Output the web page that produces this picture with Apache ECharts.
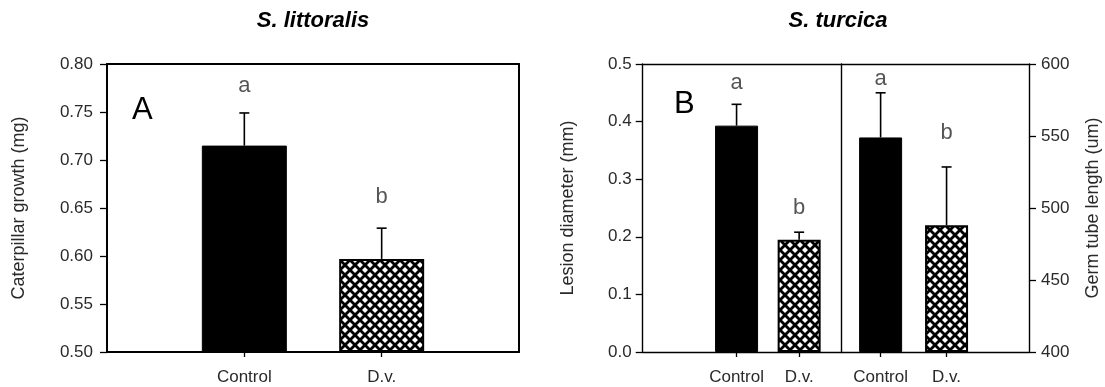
<!DOCTYPE html>
<html>
<head>
<meta charset="utf-8">
<script src="https://cdn.jsdelivr.net/npm/echarts@6/dist/echarts.min.js"></script>
<style>
  html, body { margin: 0; padding: 0; background: #fff; }
  #chart { width: 1105px; height: 387px; }
</style>
</head>
<body>
<div id="chart"></div>
<script>
// ---- data ----
const categories = ['Control', 'D.v.'];

// Panel A: S. littoralis caterpillar growth (mg)
const growthMean = [0.715, 0.597];
const growthSE = [0.034, 0.032];
const growthLetters = ['a', 'b'];
const growthTicks = [0.50, 0.80, 0.05];   // min, max, step

// Panel B (left): S. turcica lesion diameter (mm)
const lesionMean = [0.393, 0.195];
const lesionSE = [0.037, 0.013];
const lesionLetters = ['a', 'b'];
const lesionTicks = [0.0, 0.5, 0.1];

// Panel B (right): S. turcica germ tube length (um)
const germMean = [549, 488];
const germSE = [31, 40.5];
const germLetters = ['a', 'b'];
const germTicks = [400, 600, 50];

// ---- styling ----
const FONT = '"Liberation Sans", Arial, sans-serif';
const TEXT = '#2a2a2a';

// cross-hatch fill for the D.v. bars
function makeHatch() {
  const s = 10;
  const n = 20;
  const c = document.createElement('canvas');
  c.width = n; c.height = n;
  const g = c.getContext('2d');
  g.fillStyle = '#fff';
  g.fillRect(0, 0, n, n);
  g.strokeStyle = '#000';
  g.lineWidth = 2.8;
  for (let k = -2; k <= 2; k++) {
    g.beginPath(); g.moveTo(k * s, 0); g.lineTo(k * s + n, n); g.stroke();
    g.beginPath(); g.moveTo(k * s + n, 0); g.lineTo(k * s, n); g.stroke();
  }
  return c;
}
const hatch = { image: makeHatch(), repeat: 'repeat' };

const grids = [
  { left: 107, top: 64, width: 412, height: 288 },     // A
  { left: 642.7, top: 64, width: 199, height: 288 },   // B left
  { left: 841.7, top: 64, width: 187.3, height: 288 }  // B right
];
// x extent of each panel, in slot units (categories sit at 1 and 2)
const xExtent = [[0, 3], [-0.5, 2.68], [0.41, 3.25]];
const lineW = [2, 1.4, 1.4];
const barW = [85, 43, 43];

const xAxes = [];
const yAxes = [];
grids.forEach((gr, i) => {
  xAxes.push({
    type: 'value', gridIndex: i, position: 'bottom',
    min: xExtent[i][0], max: xExtent[i][1],
    axisLine: { show: true, onZero: false, lineStyle: { color: '#000', width: lineW[i] } },
    axisTick: { show: true, customValues: [1, 2], length: 5, lineStyle: { color: '#000', width: 1.3 } },
    axisLabel: {
      show: true, customValues: [1, 2], margin: 17,
      formatter: v => categories[Math.round(v) - 1] || '',
      color: TEXT, fontFamily: FONT, fontSize: 17
    },
    splitLine: { show: false }
  });
  // top border of the frame
  xAxes.push({
    type: 'value', gridIndex: i, position: 'top',
    min: xExtent[i][0], max: xExtent[i][1],
    axisLine: { show: true, onZero: false, lineStyle: { color: '#000', width: lineW[i] } },
    axisTick: { show: false }, axisLabel: { show: false }, splitLine: { show: false }
  });
});

function valueAxis(gridIndex, ticks, position, digits, name, nameGap, margin) {
  return {
    type: 'value', gridIndex, position,
    min: ticks[0], max: ticks[1], interval: ticks[2], startValue: ticks[0],
    name, nameLocation: 'middle', nameGap,
    nameTextStyle: { color: TEXT, fontFamily: FONT, fontSize: 18 },
    axisLine: { show: true, onZero: false, lineStyle: { color: '#000', width: lineW[gridIndex] } },
    axisTick: { show: true, length: 7, lineStyle: { color: '#000', width: 1.3 } },
    axisLabel: {
      margin, color: TEXT, fontFamily: FONT, fontSize: 17,
      formatter: v => v.toFixed(digits)
    },
    splitLine: { show: false }
  };
}
function borderAxis(gridIndex, ticks, position) {
  return {
    type: 'value', gridIndex, position,
    min: ticks[0], max: ticks[1],
    axisLine: { show: true, onZero: false, lineStyle: { color: '#000', width: lineW[gridIndex] } },
    axisTick: { show: false }, axisLabel: { show: false }, splitLine: { show: false }
  };
}

yAxes.push(valueAxis(0, growthTicks, 'left', 2, 'Caterpillar growth (mg)', 79, 14));
yAxes.push(borderAxis(0, growthTicks, 'right'));
yAxes.push(valueAxis(1, lesionTicks, 'left', 1, 'Lesion diameter (mm)', 66, 11));
yAxes.push(borderAxis(1, lesionTicks, 'right'));
yAxes.push(valueAxis(2, germTicks, 'right', 0, 'Germ tube length (um)', 55, 12));

// panels: grid index, x axis index, y axis index, data
const panels = [
  { g: 0, x: 0, y: 0, mean: growthMean, se: growthSE, letters: growthLetters, lift: [16, 20] },
  { g: 1, x: 2, y: 2, mean: lesionMean, se: lesionSE, letters: lesionLetters, lift: [10, 13] },
  { g: 2, x: 4, y: 4, mean: germMean, se: germSE, letters: germLetters, lift: [3, 23] }
];

const series = [];
panels.forEach(p => {
  series.push({
    type: 'bar', xAxisIndex: p.x, yAxisIndex: p.y,
    barWidth: barW[p.g], clip: true,
    data: categories.map((c, i) => ({
      value: [i + 1, p.mean[i]],
      itemStyle: i === 0
        ? { color: '#000', borderColor: '#000', borderWidth: 1 }
        : { color: hatch, borderColor: '#000', borderWidth: 2 }
    })),
    silent: true, z: 2
  });
  // upper error bars with caps
  series.push({
    type: 'custom', xAxisIndex: p.x, yAxisIndex: p.y,
    data: categories.map((c, i) => [i + 1, p.mean[i], p.se[i]]),
    renderItem: (params, api) => {
      const x = api.value(0), m = api.value(1), e = api.value(2);
      const a = api.coord([x, m]);
      const b = api.coord([x, m + e]);
      const st = { stroke: '#000', lineWidth: 1.6 };
      return {
        type: 'group',
        children: [
          { type: 'line', shape: { x1: a[0], y1: a[1], x2: b[0], y2: b[1] }, style: st },
          { type: 'line', shape: { x1: b[0] - 5, y1: b[1], x2: b[0] + 5, y2: b[1] }, style: st }
        ]
      };
    },
    silent: true, z: 3
  });
  // significance letters above the error bars
  series.push({
    type: 'scatter', xAxisIndex: p.x, yAxisIndex: p.y,
    symbolSize: 0,
    data: categories.map((c, i) => ({
      value: [i + 1, p.mean[i] + p.se[i]],
      label: {
        show: true, position: 'top', distance: p.lift[i],
        formatter: p.letters[i],
        color: TEXT, fontFamily: FONT, fontSize: 22
      }
    })),
    silent: true, z: 4
  });
});

const chart = echarts.init(document.getElementById('chart'), null, { renderer: 'canvas' });
chart.setOption({
  animation: false,
  backgroundColor: '#fff',
  grid: grids,
  xAxis: xAxes,
  yAxis: yAxes,
  series,
  graphic: [
    { type: 'text', x: 313, y: 21, style: { text: 'S. littoralis', align: 'center', verticalAlign: 'middle', font: 'italic bold 22px ' + FONT, fill: '#000' } },
    { type: 'text', x: 838, y: 21, style: { text: 'S. turcica', align: 'center', verticalAlign: 'middle', font: 'italic bold 22px ' + FONT, fill: '#000' } },
    { type: 'text', x: 132, y: 110, style: { text: 'A', align: 'left', verticalAlign: 'middle', font: '31px ' + FONT, fill: '#000' } },
    { type: 'text', x: 674, y: 104, style: { text: 'B', align: 'left', verticalAlign: 'middle', font: '31px ' + FONT, fill: '#000' } }
  ]
});
</script>
</body>
</html>
